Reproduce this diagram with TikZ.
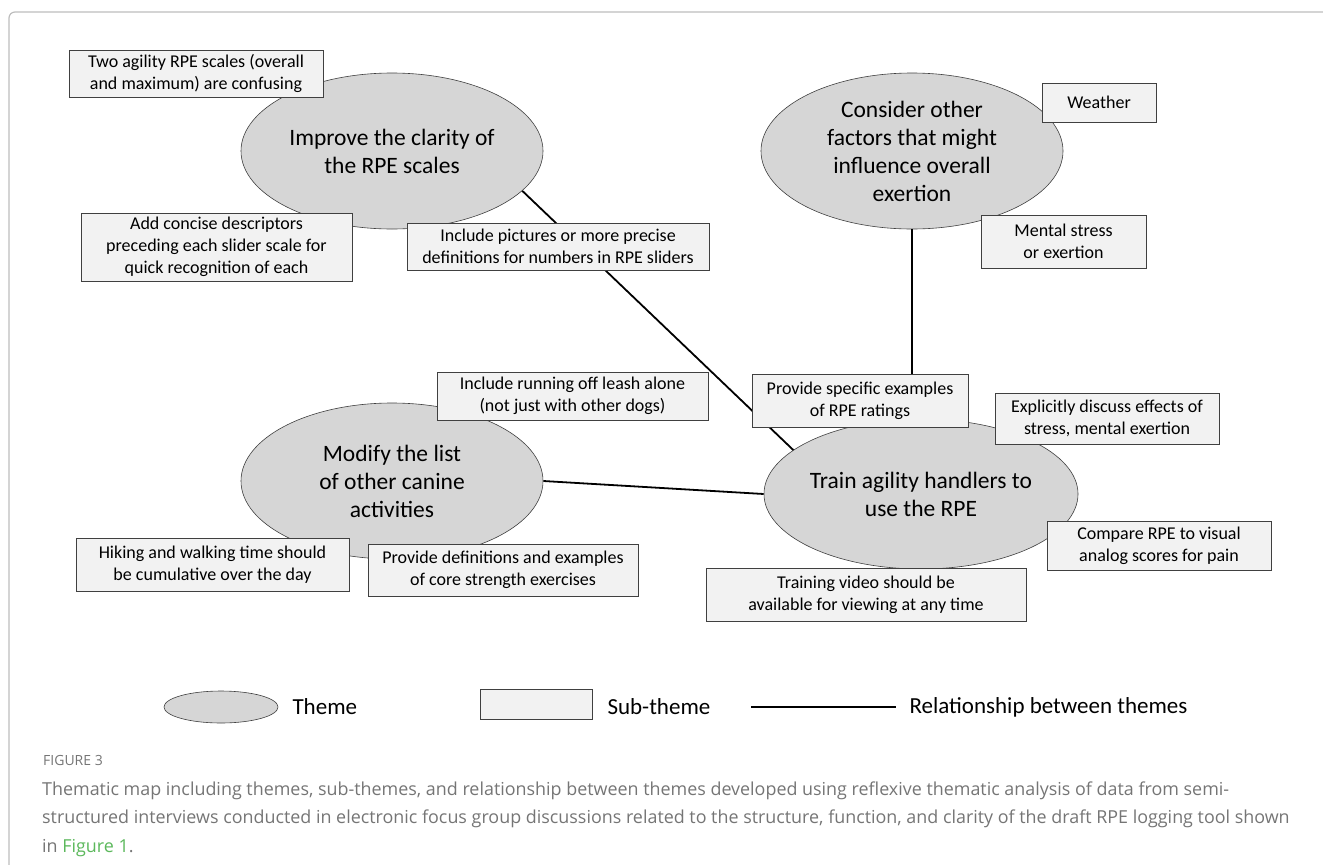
\documentclass[tikz,border=0pt]{standalone}
\usepackage{fontspec}
\setmainfont{Carlito}
\newfontfamily\capfont{Open Sans}
\usepackage{tikz}
\usetikzlibrary{shapes.geometric}

\definecolor{themegray}{HTML}{D6D6D6}
\definecolor{subgray}{HTML}{F2F2F2}
\definecolor{framegray}{HTML}{BDBDBD}
\definecolor{capgray}{HTML}{757575}
\definecolor{figgreen}{HTML}{5CB85C}

\begin{document}
\begin{tikzpicture}[x=1pt, y=-1pt,
    theme/.style={ellipse, draw=black!75, line width=0.6pt, fill=themegray,
      minimum width=302pt, minimum height=156pt, inner sep=0pt, align=center,
      font=\fontsize{23.5}{28}\selectfont},
    sub/.style={rectangle, draw=black!75, line width=0.9pt, fill=subgray,
      inner sep=0pt, align=center, font=\fontsize{18}{22}\selectfont},
    link/.style={line width=1.8pt, black},
    legtext/.style={anchor=west, font=\fontsize{23}{28}\selectfont},
    captext/.style={anchor=base west, inner sep=0pt, text=capgray,
      font=\capfont\fontsize{17.9}{22}\selectfont}]
    \useasboundingbox (0,0) rectangle (1323,865);

    %---- frame
    \draw[framegray, line width=1.2pt, rounded corners=6pt] (1323,12) -- (9,12) -- (9,865);

    %---- themes
    \node[theme] (clarity) at (392,151) {Improve the clarity of\\the RPE scales};
    \node[theme] (factors) at (912,151) {Consider other\\factors that might\\influence overall\\exertion};
    \node[theme] (canine)  at (392,481) {Modify the list\\of other canine\\activities};
    \node[theme, minimum height=150pt] (train) at (921,494) {Train agility handlers to\\use the RPE};

    %---- relationships between themes
    \draw[link] (clarity.-17.7) -- (train.161);
    \draw[link] (factors.south) -- (factors.south |- train.north);
    \draw[link] (canine.east) -- (train.west);

    %---- sub-themes
    \node[sub, minimum width=254pt, minimum height=47pt] (twoscales) at (196,73.5)
      {Two agility RPE scales (overall\\and maximum) are confusing};
    \node[sub, minimum width=271pt, minimum height=68pt] (descr) at (216.5,247)
      {Add concise descriptors\\preceding each slider scale for\\quick recognition of each};
    \node[sub, minimum width=302pt, minimum height=47pt] (pictures) at (558,246.5)
      {Include pictures or more precise\\definitions for numbers in RPE sliders};
    \node[sub, minimum width=114pt, minimum height=39pt] (weather) at (1099,102.5)
      {Weather};
    \node[sub, minimum width=165pt, minimum height=53pt] (mental) at (1063.5,241.5)
      {Mental stress\\or exertion};
    \node[sub, minimum width=271pt, minimum height=48pt] (leash) at (572.5,396)
      {Include running off leash alone\\(not just with other dogs)};
    \node[sub, minimum width=273pt, minimum height=53pt] (hiking) at (212.5,564.5)
      {Hiking and walking time should\\be cumulative over the day};
    \node[sub, minimum width=270pt, minimum height=52pt] (core) at (503,570)
      {Provide definitions and examples\\of core strength exercises};
    \node[sub, minimum width=216pt, minimum height=53pt] (examples) at (860,400.5)
      {Provide specific examples\\of RPE ratings};
    \node[sub, minimum width=224pt, minimum height=51pt] (stress) at (1107,418.5)
      {Explicitly discuss effects of\\stress, mental exertion};
    \node[sub, minimum width=224pt, minimum height=49pt] (pain) at (1159,545.5)
      {Compare RPE to visual\\analog scores for pain};
    \node[sub, minimum width=320pt, minimum height=53pt] (video) at (866,594.5)
      {Training video should be\\available for viewing at any time};

    %---- legend
    \node[theme, minimum width=114pt, minimum height=32pt] (legtheme) at (221,707) {};
    \node[legtext] (legthemetxt) at (289,707) {Theme};
    \node[sub, minimum width=112pt, minimum height=30pt] (legsub) at (536,704) {};
    \node[legtext] (legsubtxt) at (604,707) {Sub-theme};
    \coordinate (legA) at (751,707);
    \coordinate (legB) at (896,707);
    \draw[line width=1.3pt] (legA) -- (legB);
    \node[legtext] (reltxt) at (906,707) {Relationship between themes};

    %---- caption
    \node[captext, font=\capfont\fontsize{14}{16}\selectfont] (figlabel) at (43,765) {FIGURE 3};
    \node[captext] (cap1) at (42,795) {Thematic map including themes, sub-themes, and relationship between themes developed using reflexive thematic analysis of data from semi-};
    \node[captext] (cap2) at (42,823.5) {structured interviews conducted in electronic focus group discussions related to the structure, function, and clarity of the draft RPE logging tool shown};
    \node[captext] (cap3) at (42,852) {in \textcolor{figgreen}{Figure 1}.};
\end{tikzpicture}
\end{document}
